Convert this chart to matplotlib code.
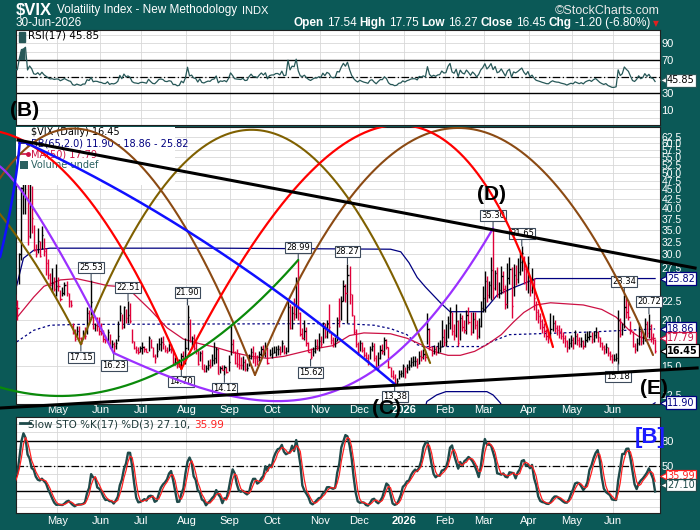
import numpy as np
import pandas as pd
import matplotlib
matplotlib.use("Agg")
import matplotlib.pyplot as plt
from matplotlib.patches import Rectangle
from matplotlib.ticker import NullLocator
from matplotlib.transforms import Bbox, TransformedBbox, blended_transform_factory
from math import comb

# --- trading calendar -------------------------------------------------------
holidays = ["2025-04-18", "2025-05-26", "2025-06-19", "2025-07-04", "2025-09-01",
            "2025-11-27", "2025-12-25", "2026-01-01", "2026-01-19", "2026-02-16",
            "2026-04-03", "2026-05-25", "2026-06-19"]
dates = pd.bdate_range("2025-03-03", "2026-06-30")
dates = dates[~dates.isin(pd.to_datetime(holidays))]
n_warm = 21  # march 2025 only feeds the indicators (off chart)

# --- daily bars (close / high / low), month by month ------------------------
c_mar25 = [22.78, 23.51, 21.93, 24.87, 23.37, 27.86, 26.92, 24.23, 24.66, 21.77, 20.51, 21.70, 19.90, 19.80, 19.28, 17.48, 17.15, 18.33, 18.69, 21.65, 22.28]
h_mar25 = [23.7, 25.8, 23.9, 25.6, 26.6, 29.6, 28.3, 26.1, 25.4, 24.0, 21.8, 22.9, 22.0, 21.0, 21.7, 19.5, 17.8, 19.3, 19.9, 22.0, 24.9]
l_mar25 = [19.8, 21.5, 21.2, 22.0, 22.3, 24.0, 26.0, 22.7, 22.7, 21.3, 20.3, 20.9, 19.3, 18.9, 19.2, 17.4, 16.9, 16.9, 18.2, 19.2, 21.8]

c_apr25 = [21.77, 21.51, 30.02, 45.31, 46.98, 52.33, 33.62, 40.72, 37.56, 30.89, 30.12, 32.64, 29.65, 33.82, 30.57, 28.45, 26.47, 24.84, 25.15, 24.17, 24.70]
h_apr25 = [23.4, 22.6, 30.3, 45.6, 60.1, 57.5, 57.5, 54.9, 46.1, 36.0, 32.0, 35.4, 32.7, 35.8, 33.3, 31.2, 29.1, 26.8, 27.6, 26.0, 28.3]
l_apr25 = [21.5, 19.9, 25.0, 29.0, 38.6, 38.5, 31.9, 33.3, 34.4, 30.6, 29.5, 30.3, 29.6, 31.0, 29.7, 26.4, 25.8, 24.6, 23.8, 23.9, 23.1]

c_may25 = [24.60, 22.68, 23.64, 24.76, 23.55, 22.48, 21.90, 18.39, 17.72, 18.62, 17.83, 17.24, 18.14, 18.09, 20.87, 20.28, 22.29, 18.96, 19.31, 19.18, 18.57]
h_may25 = [26.0, 24.0, 24.5, 25.2, 25.4, 23.6, 22.6, 19.6, 18.8, 19.2, 19.2, 17.9, 18.7, 19.1, 21.6, 21.2, 25.53, 20.4, 19.6, 20.3, 20.3]
l_may25 = [23.9, 22.5, 23.2, 23.3, 23.2, 21.6, 21.6, 18.3, 17.5, 18.0, 17.6, 17.15, 17.7, 17.7, 18.3, 19.4, 20.6, 18.9, 18.6, 18.6, 18.2]

c_jun25 = [18.36, 17.69, 17.61, 18.48, 16.77, 17.16, 16.95, 17.26, 18.02, 20.82, 19.11, 21.60, 20.14, 20.62, 19.83, 17.48, 16.76, 16.59, 16.32, 16.73]
h_jun25 = [19.6, 18.7, 18.2, 18.9, 18.3, 17.6, 17.4, 17.7, 19.8, 21.9, 20.7, 21.8, 21.3, 22.51, 22.2, 18.9, 17.5, 17.0, 16.9, 17.0]
l_jun25 = [18.2, 17.4, 17.3, 17.3, 16.7, 16.7, 16.23, 16.6, 17.5, 19.8, 18.9, 19.0, 19.6, 19.6, 19.6, 17.3, 16.6, 16.2, 16.1, 16.3]

c_jul25 = [16.83, 16.64, 16.38, 17.79, 16.81, 15.94, 15.78, 16.40, 17.20, 17.38, 17.16, 16.52, 16.41, 16.65, 16.50, 15.37, 15.39, 14.93, 15.03, 15.98, 15.48, 16.72]
h_jul25 = [17.4, 17.0, 16.7, 18.1, 17.7, 16.9, 16.1, 17.3, 17.8, 17.9, 18.0, 17.1, 16.9, 17.3, 17.2, 16.6, 15.8, 15.6, 15.6, 16.2, 16.4, 17.8]
l_jul25 = [16.1, 16.3, 16.3, 16.4, 16.7, 15.8, 15.3, 15.8, 16.5, 16.4, 16.6, 16.3, 16.2, 16.4, 16.2, 15.2, 15.1, 14.8, 14.9, 14.70, 15.3, 15.2]

c_aug25 = [20.38, 17.52, 17.85, 16.77, 16.57, 15.15, 16.25, 14.73, 14.49, 14.83, 15.09, 15.00, 15.57, 15.69, 16.60, 14.22, 14.79, 14.62, 14.85, 14.43, 15.36]
h_aug25 = [21.90, 20.1, 18.0, 18.3, 17.5, 16.6, 16.4, 16.5, 15.2, 15.1, 15.5, 15.6, 16.1, 17.4, 16.8, 16.7, 15.0, 15.1, 15.1, 14.9, 16.0]
l_aug25 = [16.5, 17.4, 16.9, 16.5, 16.1, 15.1, 15.4, 14.7, 14.4, 14.4, 14.6, 14.8, 15.0, 15.2, 15.3, 14.2, 14.3, 14.6, 14.12, 14.3, 14.5]

c_sep25 = [17.17, 16.35, 15.30, 15.18, 15.11, 15.04, 15.35, 14.71, 14.76, 15.69, 16.36, 15.72, 15.70, 15.45, 16.10, 16.64, 16.18, 16.74, 15.29, 16.12, 16.28]
h_sep25 = [19.4, 17.7, 16.4, 16.6, 16.2, 15.8, 15.9, 15.6, 15.3, 16.1, 16.7, 17.0, 16.3, 16.0, 16.4, 17.0, 17.1, 17.4, 16.8, 16.6, 16.9]
l_sep25 = [16.0, 16.2, 15.2, 14.9, 14.7, 14.7, 14.6, 14.5, 14.5, 15.0, 15.6, 15.3, 15.0, 15.1, 15.4, 15.9, 15.9, 15.8, 15.2, 15.9, 15.7]

c_oct25 = [16.29, 16.63, 16.65, 16.37, 17.24, 16.30, 16.43, 21.66, 19.03, 20.81, 20.64, 25.31, 20.78, 18.23, 17.87, 18.60, 17.30, 16.37, 15.79, 16.42, 16.92, 16.91, 17.44]
h_oct25 = [17.0, 17.0, 17.1, 17.0, 17.6, 17.1, 16.8, 22.4, 22.0, 21.8, 22.9, 26.0, 28.99, 20.9, 19.0, 19.9, 19.1, 17.4, 16.7, 16.8, 17.7, 17.7, 18.4]
l_oct25 = [16.2, 15.9, 16.0, 16.0, 16.3, 16.1, 16.1, 16.3, 18.9, 18.9, 20.0, 20.2, 20.0, 18.1, 17.7, 17.6, 17.0, 16.3, 15.62, 15.9, 16.2, 16.5, 16.4]

c_nov25 = [17.17, 19.00, 18.01, 19.50, 19.08, 17.60, 17.28, 17.51, 20.00, 19.83, 22.38, 24.69, 23.66, 26.42, 23.43, 20.52, 18.56, 17.19, 16.35]
h_nov25 = [18.0, 19.7, 19.6, 20.0, 22.0, 18.4, 17.9, 17.9, 20.3, 22.9, 23.2, 25.6, 25.0, 28.27, 28.0, 23.5, 20.6, 18.9, 17.4]
l_nov25 = [16.8, 17.3, 17.8, 17.8, 18.4, 17.2, 16.9, 16.9, 17.5, 19.1, 20.0, 22.5, 22.3, 19.6, 22.0, 20.4, 18.3, 16.8, 16.0]

c_dec25 = [17.24, 16.59, 16.08, 15.78, 15.41, 16.66, 16.93, 15.77, 14.85, 15.74, 16.50, 16.48, 17.62, 16.87, 14.91, 14.08, 14.00, 13.47, 13.60, 14.20, 14.33, 14.95]
h_dec25 = [17.6, 17.4, 16.9, 16.3, 16.1, 17.0, 17.4, 17.3, 16.0, 16.3, 17.1, 17.2, 17.9, 17.7, 16.9, 14.9, 14.6, 14.2, 13.9, 14.6, 14.6, 15.2]
l_dec25 = [16.4, 16.3, 15.8, 15.6, 15.1, 15.6, 16.4, 15.4, 14.7, 14.6, 15.6, 16.1, 16.0, 16.6, 14.8, 14.0, 13.8, 13.38, 13.4, 13.8, 14.0, 14.0]

c_jan26 = [14.51, 14.90, 15.10, 15.38, 15.45, 15.45, 15.12, 15.98, 15.84, 16.12, 15.86, 18.90, 16.85, 16.20, 16.60, 16.30, 16.70, 16.80, 17.90, 17.40]
h_jan26 = [14.9, 15.2, 15.5, 15.8, 15.9, 15.9, 15.7, 16.4, 16.5, 16.6, 16.5, 20.8, 19.0, 17.0, 17.1, 17.0, 17.4, 17.6, 19.9, 18.9]
l_jan26 = [13.9, 14.3, 14.6, 14.9, 15.0, 15.0, 14.8, 15.2, 15.4, 15.6, 15.4, 17.2, 16.5, 15.9, 16.1, 16.0, 16.2, 16.3, 16.9, 17.0]

c_feb26 = [17.5, 19.6, 20.9, 18.6, 18.2, 19.8, 17.3, 20.2, 19.1, 18.7, 20.6, 19.7, 18.5, 20.1, 19.3, 18.0, 19.2, 21.5, 22.9]
h_feb26 = [19.5, 20.5, 21.6, 21.0, 19.4, 22.1, 19.9, 20.8, 20.6, 19.9, 21.2, 21.6, 20.9, 20.9, 21.0, 19.9, 20.2, 22.4, 24.6]
l_feb26 = [17.0, 17.8, 18.9, 18.2, 17.6, 17.9, 17.0, 17.6, 18.6, 18.4, 18.3, 19.5, 18.2, 18.4, 18.9, 17.7, 17.8, 19.1, 20.9]

c_mar26 = [25.5, 23.3, 24.8, 27.2, 24.4, 26.8, 23.4, 24.1, 26.3, 24.2, 22.0, 25.9, 27.4, 21.8, 26.4, 25.7, 26.9, 28.6, 30.3, 27.4, 25.5, 28.4]
h_mar26 = [27.0, 26.2, 25.5, 29.5, 35.30, 27.3, 27.8, 25.3, 28.0, 27.1, 24.8, 28.4, 29.6, 27.8, 28.2, 28.1, 29.3, 30.2, 31.65, 29.8, 28.0, 29.7]
l_mar26 = [21.0, 22.3, 22.9, 22.6, 22.8, 24.1, 23.0, 22.9, 23.4, 23.6, 21.3, 21.5, 25.0, 20.2, 23.2, 24.8, 25.1, 26.4, 27.0, 25.0, 24.0, 23.6]

c_apr26 = [24.1, 25.6, 22.9, 21.0, 20.4, 19.8, 19.1, 18.6, 18.0, 17.9, 18.9, 19.6, 19.0, 18.7, 18.6, 18.1, 17.8, 17.5, 16.9, 17.3, 17.6]
h_apr26 = [26.0, 27.6, 25.9, 22.5, 21.3, 20.8, 20.1, 19.6, 18.8, 18.6, 20.8, 20.6, 19.9, 19.3, 19.3, 19.0, 18.5, 18.2, 17.6, 17.8, 18.2]
l_apr26 = [23.2, 23.6, 21.2, 19.9, 19.6, 18.9, 18.4, 17.9, 17.6, 17.3, 17.9, 18.6, 18.5, 18.2, 17.8, 17.7, 17.3, 16.9, 16.3, 16.6, 16.9]

c_may26 = [17.3, 18.0, 17.6, 17.2, 17.5, 17.0, 17.6, 17.9, 18.1, 17.7, 18.2, 18.5, 17.9, 17.3, 16.9, 16.6, 16.8, 16.2, 15.9, 15.6]
h_may26 = [17.9, 18.7, 18.4, 17.9, 17.9, 17.6, 18.4, 18.6, 18.6, 18.5, 18.6, 19.1, 18.6, 17.9, 17.4, 17.1, 17.3, 16.9, 16.4, 16.1]
l_may26 = [16.6, 17.2, 17.1, 16.9, 16.8, 16.6, 16.8, 17.4, 17.6, 17.3, 17.4, 17.8, 17.4, 16.9, 16.5, 16.1, 16.2, 15.9, 15.5, 15.3]

c_jun26 = [15.6, 15.7, 19.9, 18.3, 18.9, 21.6, 20.9, 20.3, 18.7, 17.0, 16.6, 17.3, 18.6, 17.5, 17.9, 19.4, 18.4, 19.2, 17.9, 17.65, 16.45]
h_jun26 = [16.1, 16.2, 21.2, 20.2, 19.6, 23.34, 22.9, 22.6, 19.8, 18.6, 17.3, 17.8, 19.6, 18.9, 18.5, 20.2, 19.8, 20.72, 19.5, 18.4, 17.75]
l_jun26 = [15.4, 15.4, 15.18, 17.9, 18.2, 19.0, 20.2, 20.0, 18.3, 16.8, 16.2, 16.4, 17.1, 17.1, 17.2, 17.5, 17.9, 17.8, 17.4, 17.2, 16.27]

close = np.array(c_mar25 + c_apr25 + c_may25 + c_jun25 + c_jul25 + c_aug25 + c_sep25 + c_oct25
                 + c_nov25 + c_dec25 + c_jan26 + c_feb26 + c_mar26 + c_apr26 + c_may26 + c_jun26)
high = np.array(h_mar25 + h_apr25 + h_may25 + h_jun25 + h_jul25 + h_aug25 + h_sep25 + h_oct25
                + h_nov25 + h_dec25 + h_jan26 + h_feb26 + h_mar26 + h_apr26 + h_may26 + h_jun26)
low = np.array(l_mar25 + l_apr25 + l_may25 + l_jun25 + l_jul25 + l_aug25 + l_sep25 + l_oct25
               + l_nov25 + l_dec25 + l_jan26 + l_feb26 + l_mar26 + l_apr26 + l_may26 + l_jun26)
assert len(close) == len(high) == len(low) == len(dates), (len(close), len(high), len(low), len(dates))

# overlays (trading-day index from 1-Apr-2025, value)
ma50_x = [1, 9, 14, 22, 30, 37, 45, 54, 58, 66, 74, 82, 90, 98, 106, 115, 123, 131, 139, 147, 155, 163, 170, 183,
          191, 198, 204, 211, 217, 224, 230, 237, 243, 248, 254, 261, 277, 286, 293, 299, 304, 309, 312]
ma50_y = [20.3, 23.0, 24.6, 25.6, 25.8, 25.3, 24.7, 24.5, 23.4, 21.2, 19.0, 17.7, 17.2, 16.8, 16.3, 15.9, 15.7, 15.9,
          16.3, 16.7, 17.0, 18.1, 18.4, 18.3, 17.8, 17.1, 16.4, 16.0, 16.0, 16.4, 17.1, 18.2, 19.7, 20.9, 21.9, 22.2,
          21.9, 21.3, 20.3, 18.8, 18.0, 17.6, 17.79]
bbu_x = [0.7, 4, 9, 17, 100, 183, 188, 192, 196, 200, 207, 212, 228, 231, 235, 243, 250, 254, 312]
bbu_y = [24.7, 29.3, 30.8, 31.2, 31.2, 31.0, 30.5, 28.5, 26.0, 24.5, 22.3, 21.0, 21.0, 21.9, 23.3, 24.4, 25.3, 25.82, 25.82]
bbm_x = [0.7, 9, 17, 30, 160, 175, 183, 191, 196, 199, 228, 232, 241, 254, 280, 312]
bbm_y = [17.4, 18.7, 19.3, 19.4, 19.5, 19.3, 18.9, 18.2, 17.1, 16.9, 16.9, 17.4, 18.2, 18.3, 18.5, 18.86]
bbl_x = [0.7, 17, 183, 191, 196, 200.7, 205.5, 210, 230, 233, 236.5, 240, 254, 300, 308, 312]
bbl_y = [6.0, 7.3, 6.8, 8.0, 9.5, 12.0, 12.5, 12.76, 12.76, 12.5, 11.9, 11.0, 10.6, 10.8, 11.5, 11.90]

# marked highs / lows: (index, value, +1 above / -1 below)
hl_marks = [(37, 25.53, 1), (32, 17.15, -1), (48, 16.23, -1), (55, 22.51, 1), (81, 14.70, -1),
            (84, 21.90, 1), (102, 14.12, -1), (138, 28.99, 1), (144, 15.62, -1), (162, 28.27, 1),
            (185, 13.38, -1), (233, 35.30, 1), (247, 31.65, 1), (297, 23.34, 1), (294, 15.18, -1),
            (309, 20.72, 1)]

# analyst arcs (bezier control points, index / price) and trend lines
arcs = [
    ("#7f6000", 1.5, [(-179, 17.15), (-74, 249), (32, 17.15)]),
    ("#7f6000", 1.5, [(32, 17.15), (116.9, 263), (202.3, 15.25)]),
    ("#8b4a13", 1.5, [(-22.1, 34.9), (38.9, 176.5), (116.9, 14.16)]),
    ("#8b4a13", 1.5, [(116.9, 14.16), (214.0, 288.8), (311.0, 16.03)]),
    ("#ff0000", 1.6, [(-115.7, 14.7), (-17.2, 290.6), (81, 14.7)]),
    ("#ff0000", 1.6, [(81, 14.7), (198.4, 287), (262.2, 16.85)]),
    ("#0a8a0a", 1.6, [(-94.2, 28.99), (21.8, 5.32), (138, 28.99)]),
    ("#9b30ff", 1.6, [(-9.9, 53.0), (4.8, 48.3), (48, 16.23)]),
    ("#9b30ff", 1.6, [(48, 16.23), (120.8, 10.63), (170.6, 9.10), (233, 35.30)]),
    ("#1010ff", 1.8, [(-7.4, 29.5), (0.4, 44.8), (2.3, 61.2)]),
    ("#1010ff", 1.8, [(2.3, 61.2), (92.8, 36.2), (185, 13.38)]),
]
trend_lines = [[(1.35, 61.2), (331.5, 27.57)], [(-7.43, 11.52), (332.5, 14.79)]]

# --- indicators from the bars -----------------------------------------------
cs = pd.Series(close)
d = cs.diff()
ag = d.clip(lower=0).ewm(alpha=1 / 17, adjust=False).mean()
al = (-d.clip(upper=0)).ewm(alpha=1 / 17, adjust=False).mean()
rsi = (100 - 100 / (1 + ag / al)).values
ll = pd.Series(low).rolling(17).min()
hh = pd.Series(high).rolling(17).max()
fast_k = (cs - ll) / (hh - ll) * 100
slow_k = fast_k.rolling(3).mean().values
slow_d = pd.Series(slow_k).rolling(3).mean().values

x = np.arange(len(dates)) - n_warm
per = dates.to_period("M")
first = np.r_[True, per[1:] != per[:-1]]
mpos = x[first] - 0.5
mdates = dates[first]
keep = mpos > 1
mpos = mpos[keep]
mlab = ["2026" if d.month == 1 else d.strftime("%b") for d in mdates[keep]]

# --- figure ---------------------------------------------------------------
W, H = 700, 530
BG = "#0b5957"
GRID = "#d8d8d8"
XL = (0.37, 314.4)
SANS = ["Liberation Sans", "DejaVu Sans"]
VER = ["DejaVu Sans"]

fig = plt.figure(figsize=(7, 5.3), dpi=100)
fig.patch.set_facecolor(BG)


def panel(x0, y0, x1, y1):
    a = fig.add_axes([x0 / W, 1 - y1 / H, (x1 - x0) / W, (y1 - y0) / H])
    a.set_facecolor("white")
    for s in a.spines.values():
        s.set_color("#202020")
        s.set_linewidth(0.8)
    a.yaxis.tick_right()
    a.tick_params(length=0, colors="white", labelsize=8, pad=1)
    return a


def finish_x(a, labels):
    a.set_xlim(XL)
    a.set_xticks(mpos)
    if labels:
        a.set_xticklabels(mlab, family=SANS, fontsize=8)
        for t in a.get_xticklabels():
            if t.get_text() == "2026":
                t.set_fontweight("bold")
    else:
        a.set_xticklabels([])
    a.grid(True, color=GRID, lw=0.6)
    a.set_axisbelow(True)


def ftxt(xp, yp, s, **kw):
    kw.setdefault("va", "center")
    return fig.text(xp / W, 1 - yp / H, s, **kw)


def tag(a, yv, s, ec, tc, weight="normal"):
    tr = blended_transform_factory(a.transAxes, a.transData)
    a.text(1.0 + 7 / 644, yv, s, transform=tr, ha="left", va="center", fontsize=7, color=tc,
           fontweight=weight, family=VER, clip_on=False, zorder=10,
           bbox=dict(boxstyle="square,pad=0.15", fc="white", ec=ec, lw=0.9))
    a.plot([1.0 + 3 / 644], [yv], marker="<", ms=4, mfc="white", mec=ec, mew=0.8,
           transform=tr, clip_on=False, zorder=11)


renderer = fig.canvas.get_renderer()


def row(x0, yp, parts, gap=3, right=None):
    # lay text pieces side by side, measured in pixels
    items = [ftxt(0, yp, s, **kw) for s, kw in parts]
    widths = [t.get_window_extent(renderer=renderer).width for t in items]
    total = sum(widths) + gap * (len(items) - 1)
    xp = x0 if right is None else right - total
    for t, w in zip(items, widths):
        t.set_x(xp / W)
        xp += w + gap
    return xp


# RSI panel
ax_rsi = panel(16, 29.5, 660, 125)
ax_rsi.plot(x, rsi, color="#275858", lw=0.9, zorder=3)
ax_rsi.fill_between(x, 70, rsi, where=rsi > 70, color="#275858", lw=0, zorder=3)
ax_rsi.axhline(70, color="black", lw=1.0, zorder=2)
ax_rsi.axhline(30, color="black", lw=1.0, zorder=2)
ax_rsi.axhline(50, color="black", lw=0.9, ls=(0, (6, 2, 1, 2)), zorder=2)
ax_rsi.set_ylim(-8, 106.8)
ax_rsi.set_yticks(range(0, 101, 10))
ax_rsi.set_yticklabels(["" if v not in (10, 30, 70, 90) else str(v) for v in range(0, 101, 10)],
                       family=SANS, fontsize=8)
finish_x(ax_rsi, False)
ax_rsi.add_patch(Rectangle((2.0, 92), 2.6, 12, color="#275858", zorder=5))
ax_rsi.text(6, 99, "RSI(17) 45.85", fontsize=7.5, family=VER, va="center", zorder=5)
tag(ax_rsi, 45.85, "45.85", "#275858", "black")

# main price panel
ax = panel(16, 127, 660, 403.5)
ax.set_yscale("log")
ax.set_ylim(11.85, 66.4)
yt = np.arange(12.5, 63.0, 2.5)
ax.set_yticks(yt)
ax.set_yticklabels(["" if v in (17.5, 25.0) else f"{v:.1f}" for v in yt], family=SANS, fontsize=7.5)
ax.yaxis.set_minor_locator(NullLocator())
finish_x(ax, True)

ax.plot(bbu_x, bbu_y, color="#000080", lw=0.9, zorder=2)
ax.plot(bbm_x, bbm_y, color="#000080", lw=0.9, ls=(0, (2, 2)), zorder=2)
ax.plot(bbl_x, bbl_y, color="#000080", lw=0.9, zorder=2)
ax.plot(ma50_x, ma50_y, color="#cc1144", lw=0.9, zorder=2)

vis = x >= 0
prev = np.r_[close[0], close[:-1]]
cols = np.where(close >= prev, "black", "#e0003a")
ax.vlines(x[vis], low[vis], high[vis], colors=cols[vis], lw=1.0, zorder=3)
ax.hlines(close[vis], x[vis], x[vis] + 0.6, colors=cols[vis], lw=1.0, zorder=3)

# legend block
ax.add_patch(Rectangle((0, 0.79), 0.247, 0.21, transform=ax.transAxes, fc="white", ec="none", zorder=4))
leg = [("$VIX (Daily) 16.45", "black", 131.7), ("BB(65,2.0) 11.90 - 18.86 - 25.82", "#000080", 143.3),
       ("MA(50) 17.79", "#cc1144", 154.3), ("Volume undef", "#2a6060", 165.0)]
for s, c, yp in leg:
    ax.text((31 - 16) / 644, 1 - (yp - 127) / 276.5, s, transform=ax.transAxes, color=c, fontsize=7,
            family=VER, va="center", zorder=5)
for c, yp in [("#000080", 143.3), ("#cc1144", 154.3)]:
    ax.plot([3 / 644, 12 / 644], [1 - (yp - 127) / 276.5] * 2, color=c, lw=1.2, marker="o", ms=2.5,
            markevery=[1], transform=ax.transAxes, zorder=5)
ax.add_patch(Rectangle((4 / 644, 1 - (169 - 127) / 276.5), 8 / 644, 8 / 276.5, transform=ax.transAxes,
                       fc="#2a6060", zorder=5))

# marked highs and lows
for i, v, side in hl_marks:
    ax.annotate(f"{v:.2f}", xy=(i, v), xytext=(0, 6 * side), textcoords="offset points",
                ha="center", va="bottom" if side > 0 else "top", fontsize=6, family=VER, zorder=6,
                bbox=dict(boxstyle="square,pad=0.12", fc="white", ec="#3d4b5c", lw=0.8),
                arrowprops=dict(arrowstyle="-", color="#3d4b5c", lw=0.8, shrinkA=0, shrinkB=0))

# arcs and trend lines, allowed to run into the side margins
clip = TransformedBbox(Bbox.from_extents(0, (H - 412) / H, 1, (H - 127) / H), fig.transFigure)
t = np.linspace(0, 1, 300)[:, None]
for color, lw, pts in arcs:
    p = np.array(pts, float)
    k = len(p) - 1
    coef = np.hstack([comb(k, j) * t ** j * (1 - t) ** (k - j) for j in range(k + 1)])
    bx = coef @ p[:, 0]
    by = np.exp(coef @ np.log(p[:, 1]))
    ln, = ax.plot(bx, by, color=color, lw=lw, zorder=7, solid_capstyle="round")
    ln.set_clip_box(clip)
for seg in trend_lines:
    ln, = ax.plot([seg[0][0], seg[1][0]], [seg[0][1], seg[1][1]], color="black", lw=2.2, zorder=7)
    ln.set_clip_box(clip)

tag(ax, 25.82, "25.82", "#000080", "#000080")
tag(ax, 18.86, "18.86", "#000080", "#000080")
tag(ax, 17.79, "17.79", "#cc1144", "#cc1144")
tag(ax, 16.45, "16.45", "black", "black", weight="bold")
tag(ax, 11.90, "11.90", "#000080", "#000080")

# stochastics panel
ax_sto = panel(16, 417, 660, 513)
ax_sto.plot(x, slow_k, color="#1e4a4a", lw=1.7, zorder=3)
ax_sto.plot(x, slow_d, color="#ff2020", lw=0.9, zorder=4)
ax_sto.axhline(80, color="black", lw=1.0, zorder=2)
ax_sto.axhline(20, color="black", lw=1.0, zorder=2)
ax_sto.axhline(50, color="black", lw=0.9, ls=(0, (6, 2, 1, 2)), zorder=2)
ax_sto.set_ylim(-6.8, 108.4)
ax_sto.set_yticks(range(0, 101, 10))
ax_sto.set_yticklabels(["" if v not in (50, 80) else str(v) for v in range(0, 101, 10)],
                       family=SANS, fontsize=8)
finish_x(ax_sto, True)
ax_sto.tick_params(axis="x", pad=2)
ax_sto.plot([2.5, 7], [101, 101], color="#1e4a4a", lw=2.0, zorder=5)
tag(ax_sto, 37.5, "35.99", "#ff2020", "#ff2020")
tag(ax_sto, 26.8, "27.10", "#1e4a4a", "#1e4a4a")

# header and legends laid out in pixels
sto_leg = dict(fontsize=7.5, family=VER, zorder=5)
row(28, 424.5, [("Slow STO %K(17) %D(3) 27.10,", dict(color="#1e3a3a", **sto_leg)),
                ("35.99", dict(color="#ff2020", **sto_leg))], gap=4)
row(16, 10.5, [("$VIX", dict(color="white", fontsize=12, fontweight="bold", family=SANS)),
               ("Volatility Index - New Methodology", dict(color="white", fontsize=8.5, family=SANS)),
               ("INDX", dict(color="white", fontsize=8, family=SANS))], gap=5)
ftxt(660, 10.5, "\u00a9StockCharts.com", color="#e8e8e8", fontsize=9, family=SANS, ha="right")
ftxt(16, 23, "30-Jun-2026", color="white", fontsize=8.5, family=SANS)
hb = dict(color="white", fontsize=8.5, family=SANS, fontweight="bold")
hn = dict(color="white", fontsize=8.5, family=SANS)
row(0, 23, [("Open", hb), ("17.54", hn), ("High", hb), ("17.75", hn), ("Low", hb), ("16.27", hn),
            ("Close", hb), ("16.45", hn), ("Chg", hb), ("-1.20 (-6.80%)", hn)], gap=3, right=650)
ftxt(656, 24, "\u25bc", color="#e02020", fontsize=5.5, family=VER, ha="center")

# wave labels
big = dict(fontsize=15, fontweight="bold", family=SANS, ha="center", zorder=20)
ftxt(25, 110, "(B)", color="black", **big)
ftxt(387, 408, "(C)", color="black", **big)
ftxt(491, 195, "(D)", color="black", **big)
ftxt(654, 389, "(E)", color="black", **big)
ftxt(650, 437, "[B]", color="#1a1aff", fontsize=16, fontweight="bold", family=SANS, ha="center", zorder=20)

fig.savefig("out.png", dpi=100, facecolor=BG)
